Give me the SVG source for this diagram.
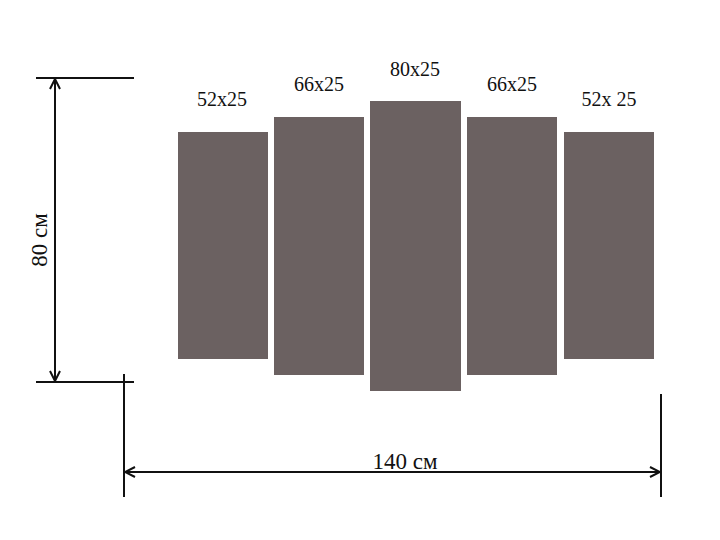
<svg xmlns="http://www.w3.org/2000/svg" width="720" height="540" viewBox="0 0 720 540">
<defs>
<style>
.panel{fill:#6b6161;}
.lbl{font-family:"Liberation Serif","DejaVu Serif",serif;font-size:20px;fill:#111;text-anchor:middle;}
.dim{font-family:"Liberation Serif",serif;font-size:23px;fill:#111;text-anchor:middle;}
.ln{stroke:#111;stroke-width:2;fill:none;}
</style>
<marker id="arr" viewBox="0 0 12 12" refX="11" refY="6" markerWidth="12" markerHeight="12" markerUnits="userSpaceOnUse" orient="auto-start-reverse">
<path d="M1,1 L11,6 L1,11" fill="none" stroke="#111" stroke-width="2"/>
</marker>
</defs>
<rect width="720" height="540" fill="#fff"/>
<g id="connectors">
<line class="ln" x1="36" y1="78" x2="134" y2="78"/>
<line class="ln" x1="36" y1="382" x2="134" y2="382"/>
<line class="ln" x1="55" y1="79" x2="55" y2="381" marker-start="url(#arr)" marker-end="url(#arr)"/>
<line class="ln" x1="124" y1="374" x2="124" y2="497"/>
<line class="ln" x1="661" y1="394" x2="661" y2="497"/>
<line class="ln" x1="125" y1="472" x2="660" y2="472" marker-start="url(#arr)" marker-end="url(#arr)"/>
</g>
<g id="panel1"><rect class="panel" x="178" y="132" width="90" height="227"/><text class="lbl" x="222" y="106">52x25</text></g>
<g id="panel2"><rect class="panel" x="274" y="117" width="90" height="258"/><text class="lbl" x="319" y="91">66x25</text></g>
<g id="panel3"><rect class="panel" x="370" y="101" width="91" height="290"/><text class="lbl" x="415" y="76">80x25</text></g>
<g id="panel4"><rect class="panel" x="467" y="117" width="90" height="258"/><text class="lbl" x="512" y="91">66x25</text></g>
<g id="panel5"><rect class="panel" x="564" y="132" width="90" height="227"/><text class="lbl" x="609" y="106">52x 25</text></g>
<g id="dims">
<text class="dim" transform="translate(47,240) rotate(-90)">80 см</text>
<text class="dim" x="405" y="469">140 см</text>
</g>
</svg>
